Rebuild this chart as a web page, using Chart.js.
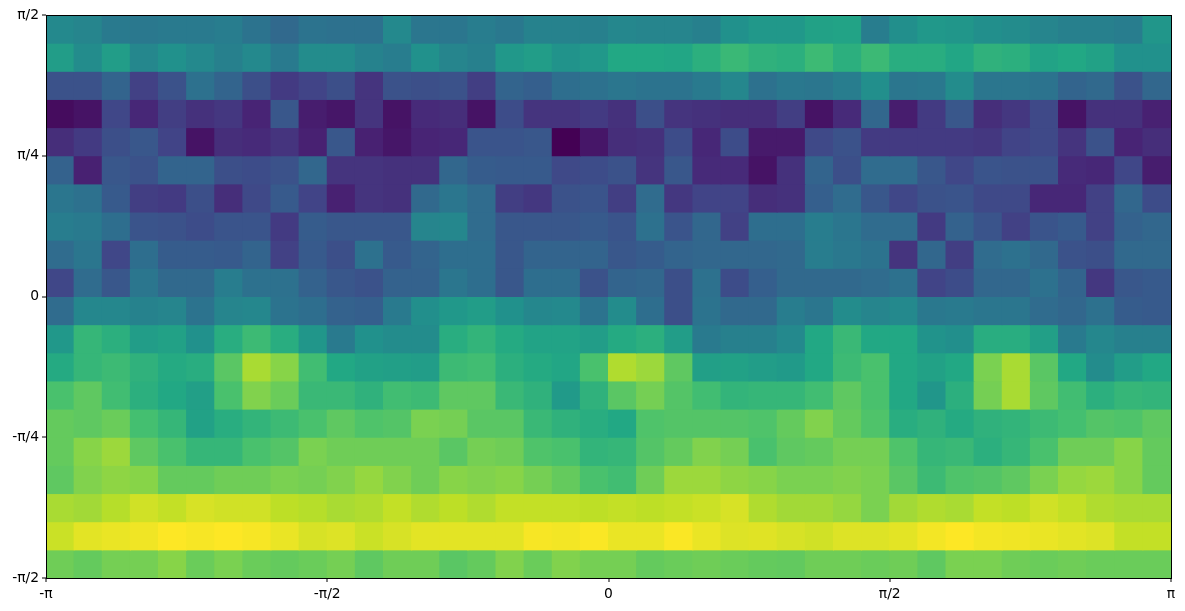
<!DOCTYPE html>
<html><head><meta charset="utf-8">
<style>html,body{margin:0;padding:0;background:#fff}canvas{display:block}</style>
<script src="https://cdn.jsdelivr.net/npm/chart.js@4"></script>
</head><body><canvas id="c" width="1185" height="611"></canvas>
<script>
const row00=[.47,.45,.41,.40,.41,.41,.42,.38,.34,.38,.37,.37,.47,.39,.39,.42,.40,.44,.44,.43,.46,.45,.45,.43,.50,.53,.53,.57,.58,.42,.49,.53,.52,.49,.48,.45,.43,.43,.42,.52];
const row01=[.55,.48,.55,.46,.50,.47,.43,.47,.41,.48,.48,.44,.42,.50,.45,.43,.53,.55,.51,.53,.60,.60,.59,.63,.67,.64,.63,.68,.63,.675,.62,.62,.59,.64,.63,.58,.60,.57,.50,.50];
const row02=[.25,.25,.32,.19,.25,.37,.32,.24,.17,.20,.24,.15,.25,.24,.25,.18,.32,.30,.36,.37,.39,.38,.38,.41,.46,.37,.40,.39,.42,.49,.39,.40,.48,.39,.39,.38,.32,.34,.25,.33];
const row03=[.03,.05,.21,.11,.18,.14,.16,.10,.27,.08,.06,.15,.05,.12,.13,.05,.23,.15,.15,.17,.14,.24,.15,.14,.13,.13,.18,.05,.12,.33,.08,.17,.27,.13,.16,.22,.05,.14,.14,.09];
const row04=[.13,.17,.24,.27,.20,.05,.13,.12,.15,.09,.27,.09,.06,.10,.11,.26,.26,.27,.00,.06,.13,.14,.23,.11,.23,.07,.07,.22,.25,.17,.17,.17,.17,.16,.20,.22,.15,.25,.10,.13];
const row05=[.31,.09,.27,.25,.32,.32,.24,.23,.25,.33,.15,.15,.14,.14,.33,.29,.28,.28,.22,.23,.25,.15,.27,.12,.12,.05,.14,.32,.24,.35,.35,.27,.21,.26,.25,.25,.12,.11,.21,.08];
const row06=[.39,.37,.28,.18,.17,.24,.13,.22,.28,.20,.09,.15,.14,.34,.39,.35,.18,.16,.25,.26,.18,.35,.16,.20,.20,.13,.14,.30,.35,.27,.21,.25,.26,.22,.22,.11,.11,.19,.33,.23];
const row07=[.42,.41,.36,.26,.25,.23,.26,.26,.17,.29,.27,.27,.27,.45,.46,.35,.27,.27,.27,.28,.26,.37,.26,.33,.19,.36,.36,.42,.39,.35,.35,.17,.31,.26,.19,.26,.28,.19,.31,.33];
const row08=[.35,.39,.21,.36,.29,.29,.28,.32,.19,.28,.24,.37,.28,.32,.36,.36,.27,.32,.32,.32,.27,.29,.32,.33,.33,.33,.34,.42,.40,.38,.15,.33,.18,.35,.37,.34,.25,.24,.34,.34];
const row09=[.21,.35,.27,.39,.34,.34,.42,.37,.37,.31,.27,.25,.31,.31,.39,.36,.27,.36,.36,.25,.32,.33,.24,.37,.23,.30,.34,.34,.34,.35,.37,.20,.23,.33,.33,.37,.32,.16,.27,.28];
const row10=[.35,.46,.46,.44,.45,.38,.45,.46,.38,.36,.31,.30,.41,.49,.53,.55,.50,.46,.47,.38,.48,.36,.24,.38,.34,.34,.42,.39,.48,.45,.47,.40,.41,.39,.39,.35,.33,.37,.29,.28];
const row11=[.53,.66,.63,.55,.57,.50,.62,.68,.62,.52,.41,.50,.48,.48,.62,.65,.61,.58,.58,.55,.61,.63,.55,.41,.43,.43,.47,.60,.67,.60,.60,.51,.49,.62,.62,.56,.41,.46,.43,.43];
const row12=[.61,.66,.68,.64,.61,.62,.74,.87,.82,.69,.60,.57,.56,.55,.68,.69,.63,.61,.59,.71,.88,.85,.75,.56,.57,.55,.54,.60,.68,.71,.60,.57,.60,.80,.87,.74,.60,.48,.55,.60];
const row13=[.71,.75,.69,.63,.60,.56,.71,.81,.77,.67,.67,.64,.69,.68,.75,.75,.67,.64,.54,.64,.74,.79,.73,.69,.65,.66,.66,.69,.75,.71,.60,.52,.63,.79,.87,.75,.69,.63,.66,.65];
const row14=[.76,.75,.77,.70,.66,.57,.62,.65,.68,.71,.75,.72,.73,.80,.79,.74,.74,.67,.64,.62,.60,.72,.73,.73,.73,.72,.76,.81,.76,.72,.62,.64,.61,.64,.65,.68,.70,.73,.72,.75];
const row15=[.76,.82,.85,.75,.71,.66,.66,.71,.73,.80,.78,.78,.78,.78,.74,.79,.78,.72,.71,.65,.66,.73,.76,.81,.79,.71,.75,.76,.79,.79,.72,.66,.67,.63,.66,.71,.78,.78,.82,.76];
const row16=[.75,.81,.83,.82,.76,.76,.78,.78,.80,.79,.81,.84,.81,.78,.82,.81,.82,.79,.76,.71,.69,.78,.85,.85,.83,.82,.80,.80,.81,.80,.74,.68,.72,.73,.75,.80,.84,.85,.82,.76];
const row17=[.87,.86,.89,.93,.91,.94,.93,.93,.90,.89,.87,.88,.91,.88,.90,.88,.91,.91,.91,.90,.91,.90,.91,.92,.94,.88,.86,.86,.84,.80,.86,.88,.87,.91,.90,.93,.91,.88,.87,.87];
const row18=[.92,.96,.97,.98,1.0,.99,1.0,.99,.97,.94,.95,.92,.94,.96,.96,.96,.96,.99,.985,.995,.97,.97,.995,.97,.95,.955,.94,.93,.95,.95,.96,.985,1.0,.985,.98,.97,.96,.95,.91,.91];
const row19=[.78,.76,.79,.79,.82,.77,.80,.77,.76,.77,.79,.75,.78,.78,.74,.76,.81,.77,.81,.79,.79,.76,.77,.78,.77,.76,.755,.78,.78,.77,.78,.75,.80,.80,.78,.77,.78,.77,.77,.77];
const rows=[row00,row01,row02,row03,row04,row05,row06,row07,row08,row09,row10,row11,row12,row13,row14,row15,row16,row17,row18,row19];
const xTickLabels=['-π','-π/2','0','π/2','π'];
const yTickLabels=['-π/2','-π/4','0','π/4','π/2'];
const viridis=['#440154','#482475','#414487','#355f8d','#2a788e','#21918c','#22a884','#44bf70','#7ad151','#bddf26','#fde725'];

function color(v){
  const t=Math.max(0,Math.min(1,v))*(viridis.length-1),i=Math.min(viridis.length-2,Math.floor(t)),f=t-i;
  const p=h=>[1,3,5].map(k=>parseInt(h.substr(k,2),16));
  const a=p(viridis[i]),b=p(viridis[i+1]);
  return 'rgb('+a.map((c,k)=>Math.round(c+(b[k]-c)*f)).join(',')+')';
}
const PI=Math.PI,nY=rows.length,nX=rows[0].length,dx=2*PI/nX,dy=PI/nY;
const datasets=rows.map((r,j)=>({
  data:r.map((v,i)=>({x:-PI+(i+.5)*dx,y:[PI/2-(j+1)*dy,PI/2-j*dy]})),
  backgroundColor:r.map(color),
  borderWidth:0,inflateAmount:.5,barPercentage:1,categoryPercentage:1,grouped:false
}));
const tickFont={family:'"DejaVu Sans"',size:13.89};
const axis=(min,max,labels,pad,extra)=>Object.assign({
  type:'linear',min,max,offset:false,
  afterBuildTicks(s){s.ticks=labels.map((_,i)=>({value:min+(max-min)*i/(labels.length-1)}));},
  ticks:{color:'#000',font:tickFont,padding:pad,maxRotation:0,autoSkip:false,includeBounds:true,
    callback(v,i){return labels[i];}},
  grid:{offset:false,lineWidth:0,drawOnChartArea:false,drawTicks:true,tickLength:4,tickColor:'#000',tickWidth:1},
  border:{display:false}
},extra);
const frame={id:'frame',afterDraw(c){const a=c.chartArea,g=c.ctx;g.save();g.strokeStyle='#000';g.lineWidth=1;
  g.strokeRect(Math.round(a.left)+.5,Math.round(a.top)+.5,Math.round(a.right-a.left),Math.round(a.bottom-a.top));g.restore();}};
new Chart(document.getElementById('c'),{
  type:'bar',
  data:{datasets},
  plugins:[frame],
  options:{
    responsive:false,animation:false,
    layout:{padding:{top:15,right:14,left:0,bottom:0}},
    plugins:{legend:{display:false},tooltip:{enabled:false}},
    scales:{
      x:axis(-PI,PI,xTickLabels,4,{afterFit(s){s.height=33;}}),
      y:axis(-PI/2,PI/2,yTickLabels,3,{afterFit(s){s.width=46;}})
    }
  }
});
</script></body></html>
